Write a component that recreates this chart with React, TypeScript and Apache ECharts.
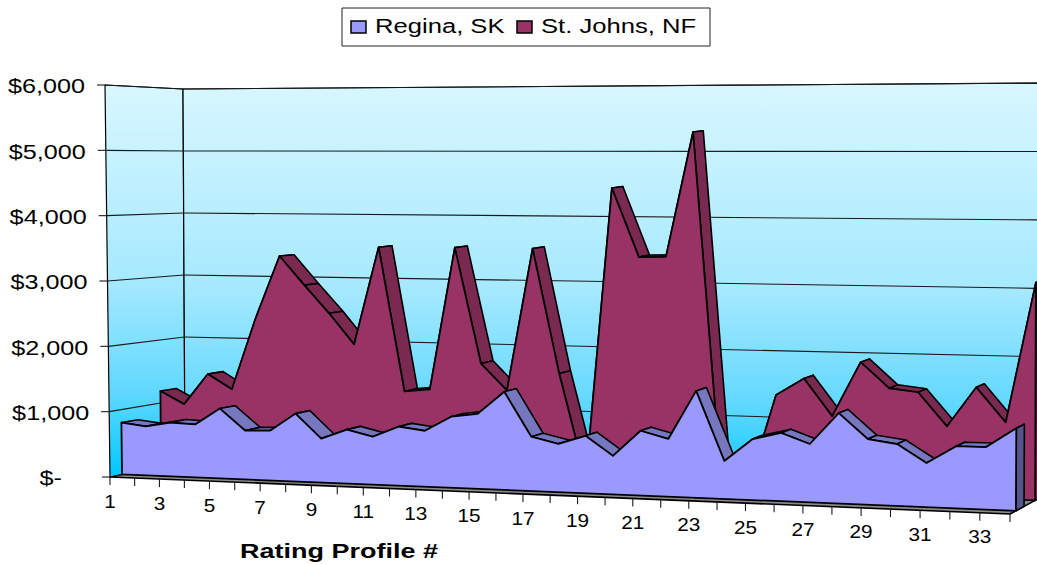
import React, { useEffect, useRef } from "react";
import * as echarts from "echarts";

const profiles = Array.from({ length: 34 }, (_, i) => i + 1);
const regina = [800, 755, 828, 813, 1069, 747, 760, 1032, 667, 817, 724, 890, 842, 1067, 1124, 1467, 810, 719, 853, 570, 956, 850, 1570, 556, 893, 997, 850, 1314, 952, 895, 636, 894, 897, 1181];
const stJohns = [1190, 995, 1482, 1255, 2380, 3362, 2914, 2483, 2009, 3524, 1301, 1345, 3535, 1765, 1364, 3538, 1644, 77, 4473, 3434, 3444, 5322, 167, 50, 1416, 1674, 1128, 1937, 1564, 1518, 1032, 1614, 1116, 3155];
const valueTicks = [0, 1000, 2000, 3000, 4000, 5000, 6000];
const xLabels = [1, 3, 5, 7, 9, 11, 13, 15, 17, 19, 21, 23, 25, 27, 29, 31, 33];

type P = [number, number];
const G = { left: 110, top: 85, w: 900, h: 392 };
const FB0: P = [110, 477], FT0: P = [105, 85], BB0: P = [185, 461], BT0: P = [183, 89];
const FB1: P = [1010, 514], FT1: P = [1012, 93], BB1: P = [1047, 494], BT1: P = [1048, 83];
const warp = (t: number, k: number) => t / (t + k * (1 - t));
const mix = (a: P, b: P, s: number): P => [a[0] + (b[0] - a[0]) * s, a[1] + (b[1] - a[1]) * s];
// maps a grid pixel (from the axis scales) and a depth into the 3D view
const proj = (c: number[], d: number): P => {
  const t = warp((c[0] - G.left) / G.w, 1.11 + 0.02 * d);
  const v = (G.top + G.h - c[1]) / G.h;
  const f = mix(mix(FB0, FT0, v), mix(FB1, FT1, v), t);
  const b = mix(mix(BB0, BT0, v), mix(BB1, BT1, v), t);
  return mix(f, b, d);
};
const FONT = "Liberation Sans";
const poly = (points: P[], fill: any, lineWidth = 1.6, stroke = "#000") => ({
  type: "polygon",
  shape: { points },
  style: { fill, stroke, lineWidth, lineJoin: "round" },
});
const seg = (a: P, b: P, lineWidth = 1.1, stroke = "#1a1a1a") => ({
  type: "line",
  shape: { x1: a[0], y1: a[1], x2: b[0], y2: b[1] },
  style: { stroke, lineWidth },
});
const label = (text: string, x: number, y: number, fontSize: number, scaleX: number, align: string, fontWeight = "normal") => ({
  type: "text",
  x,
  y,
  scaleX,
  style: { text, fontSize, fontFamily: FONT, fontWeight, fill: "#000", align, verticalAlign: "middle" },
});

const wallGrad = new echarts.graphic.LinearGradient(0, 0, 0, 1, [
  { offset: 0, color: "#d8f7ff" },
  { offset: 0.5, color: "#a6e9ff" },
  { offset: 0.78, color: "#62d8ff" },
  { offset: 1, color: "#00c8ff" },
]);

const renderWalls = (_p: any, api: any) => {
  const kids: any[] = [];
  const c = (x: number, y: number) => api.coord([x, y]);
  kids.push(poly([proj(c(1, 0), 0), proj(c(34, 0), 0), proj(c(34, 0), 1), proj(c(1, 0), 1)], "#8a8a8a", 1.6));
  kids.push(poly([proj(c(1, 0), 0), proj(c(1, 6000), 0), proj(c(1, 6000), 1), proj(c(1, 0), 1)], wallGrad, 1.2));
  kids.push(poly([proj(c(1, 0), 1), proj(c(1, 6000), 1), proj(c(34, 6000), 1), proj(c(34, 0), 1)], wallGrad, 1.2));
  valueTicks.forEach((v) => {
    const a = proj(c(1, v), 0), b = proj(c(1, v), 1), e = proj(c(34, v), 1);
    kids.push(seg(a, b), seg(b, e), seg([a[0] - 8, a[1]], a));
    const text = v === 0 ? "$-" : "$" + v.toLocaleString("en-US");
    kids.push(label(text, v === 0 ? 62 : a[0] - 20, a[1] + 1, 21, 1.2, "right"));
  });
  profiles.forEach((n) => {
    const a = proj(c(n, 0), 0);
    kids.push(seg(a, [a[0], a[1] + 8]));
  });
  xLabels.forEach((n) => {
    const a = proj(c(n, 0), 0);
    kids.push(label(String(n), a[0], a[1] + 24, 18.5, 1.12, "center"));
  });
  return { type: "group", children: kids };
};

const ribbonRender = (values: number[], d1: number, d2: number, face: string, top: string, side: string) => (p: any, api: any) => {
  const i = p.dataIndex;
  const kids: any[] = [];
  if (i === 0) {
    values.forEach((_, j) => {
      if (j === values.length - 1) return;
      const a = api.coord([j + 1, values[j]]), b = api.coord([j + 2, values[j + 1]]);
      kids.push(poly([proj(a, d1), proj(b, d1), proj(b, d2), proj(a, d2)], top));
    });
    const last = values.length;
    const tp = api.coord([last, values[last - 1]]), bt = api.coord([last, 0]);
    kids.push(poly([proj(tp, d1), proj(tp, d2), proj(bt, d2), proj(bt, d1)], side));
    const pts: P[] = values.map((v, j) => proj(api.coord([j + 1, v]), d1));
    pts.push(proj(bt, d1), proj(api.coord([1, 0]), d1));
    kids.push(poly(pts, face, 1.8));
  }
  return { type: "group", children: kids };
};

const legendItems = [
  { name: "Regina, SK", color: "#9999ff", box: 351, txt: 375 },
  { name: "St. Johns, NF", color: "#993366", box: 517, txt: 541 },
];

export default function App() {
  const ref = useRef<HTMLDivElement>(null);
  useEffect(() => {
    document.body.style.margin = "0";
    const chart = echarts.init(ref.current!, undefined, { renderer: "svg" });
    const custom = (name: string, renderItem: any, values: number[]) => ({
      type: "custom",
      name,
      renderItem,
      clip: false,
      silent: true,
      encode: { x: 0, y: 1 },
      data: values.map((v, i) => [i + 1, v]),
    });
    chart.setOption({
      animation: false,
      backgroundColor: "#fff",
      grid: { left: G.left, top: G.top, width: G.w, height: G.h },
      xAxis: { type: "value", min: 1, max: 34, show: false },
      yAxis: { type: "value", min: 0, max: 6000, interval: 1000, show: false },
      series: [
        { ...custom("Walls", renderWalls, [0]), z: 1 },
        { ...custom("St. Johns, NF", ribbonRender(stJohns, 0.68, 0.89, "#993366", "#7a2950", "#7a2950"), stJohns), z: 2 },
        { ...custom("Regina, SK", ribbonRender(regina, 0.16, 0.38, "#9999ff", "#7777c0", "#55558a"), regina), z: 3 },
      ],
      graphic: [
        { type: "rect", shape: { x: 342, y: 8, width: 368, height: 38 }, style: { fill: "#fff", stroke: "#222", lineWidth: 1 } },
        ...legendItems.flatMap((l) => [
          { type: "rect", shape: { x: l.box, y: 21, width: 15, height: 12 }, style: { fill: l.color, stroke: "#000", lineWidth: 1.5 } },
          { type: "text", x: l.txt, y: 26, scaleX: 1.22, style: { text: l.name, fontSize: 21, fontFamily: FONT, fill: "#000", align: "left", verticalAlign: "middle" } },
        ]),
        { type: "text", x: 240, y: 551, scaleX: 1.35, style: { text: "Rating Profile #", fontSize: 20, fontFamily: FONT, fontWeight: "bold", fill: "#000", align: "left", verticalAlign: "middle" } },
      ],
    });
    return () => chart.dispose();
  }, []);
  return <div ref={ref} style={{ width: 1037, height: 564 }} />;
}
